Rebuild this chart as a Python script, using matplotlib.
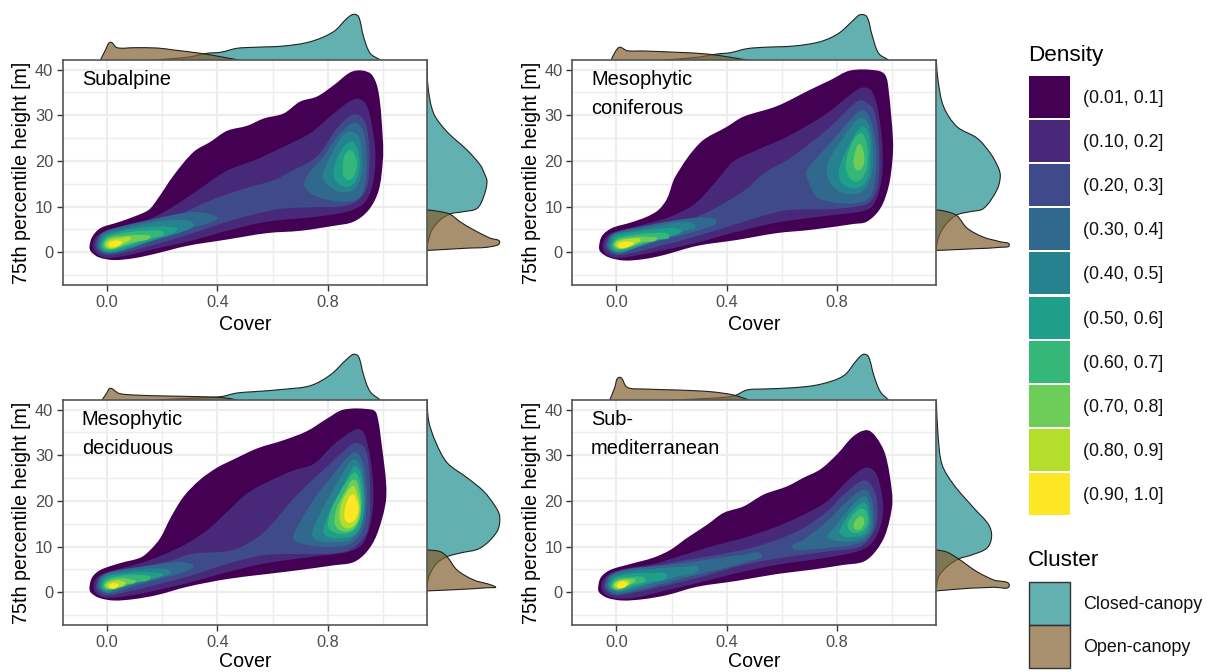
import numpy as np
import matplotlib
matplotlib.use('Agg')
import matplotlib.pyplot as plt
from matplotlib.path import Path
from matplotlib.patches import PathPatch, Rectangle

plt.rcParams['font.family'] = ['Liberation Sans', 'DejaVu Sans']

density_labels = ['(0.01, 0.1]', '(0.10, 0.2]', '(0.20, 0.3]', '(0.30, 0.4]', '(0.40, 0.5]',
                  '(0.50, 0.6]', '(0.60, 0.7]', '(0.70, 0.8]', '(0.80, 0.9]', '(0.90, 1.0]']
density_colors = ['#440154', '#482878', '#3E4A89', '#31688E', '#26828E',
                  '#1F9E89', '#35B779', '#6DCD59', '#B4DE2C', '#FDE725']
cluster_labels = ['Closed-canopy', 'Open-canopy']
closed_color = '#1F8F8F'
open_color = '#84602F'

# contour outlines (cover, height)

# Subalpine
sub_0 = [(-.064,1.2),(-.054,3.4),(-.024,5.3),(.036,6.5),(.097,7.8),(.151,9.3),(.181,11.5),(.242,16.9),(.314,22),
         (.375,24.2),(.435,26.6),(.508,27.7),(.568,29.3),(.64,30.4),(.70,33),(.761,34.1),(.822,36.6),(.882,39.4),
         (.924,39.8),(.961,38.8),(.985,34.8),(1.0,24.6),(1.0,20.2),(.985,13.6),(.949,9.3),(.894,6.7),(.822,5.8),
         (.70,4.7),(.58,4.2),(.435,2.8),(.29,1.4),(.169,-.4),(.097,-1.3),(.024,-1.7),(-.03,-1.1),(-.058,.1)]
sub_1 = [(-.052,1.6),(-.036,3.6),(.006,4.9),(.054,5.8),(.157,7.4),(.242,10.1),(.338,14),(.435,17.9),(.532,20.1),(.64,23.1),
         (.737,26.1),(.822,30.4),(.90,33.6),(.937,32.6),(.961,27.5),(.973,20.9),(.961,14.4),(.931,10.7),(.87,8.9),
         (.761,7.8),(.58,6.7),(.435,4.7),(.29,2.3),(.169,.7),(.073,-.7),(-.006,-1.2),(-.04,-.2)]
sub_2 = [(-.042,1.6),(-.024,3.9),(.042,5.4),(.121,6.2),(.242,7.8),(.363,11.1),(.483,13.7),(.604,15.8),(.665,17.7),(.761,21),
         (.834,27.2),(.894,30.2),(.931,29),(.949,24.6),(.952,20.2),(.943,14.4),(.912,11.5),(.858,10.1),(.761,9.9),
         (.616,9.4),(.459,7.1),(.29,3.8),(.157,1.4),(.06,-.1),(-.006,-.6),(-.033,.3)]
sub_3a = [(-.034,1.6),(-.018,4.2),(.048,5.6),(.151,7),(.248,8.3),(.32,8.8),(.399,7.7),(.375,6.5),(.266,4.9),(.133,2.5),(.036,.6),(-.006,-.1),(-.028,.5)]
sub_3b = [(.715,14.8),(.731,17.3),(.785,21),(.834,25.3),(.894,28.4),(.924,27.2),(.94,22.4),(.94,17.3),(.924,12.6),(.882,11.1),(.798,11.5),(.737,12.9)]
sub_4a = [(-.03,1.6),(-.012,3.9),(.054,5.1),(.151,6.4),(.26,7.1),(.314,6.1),(.272,4.5),(.175,2.7),(.066,.5),(.006,-.2),(-.024,.5)]
sub_4b = [(.782,16.2),(.792,18.8),(.822,22.4),(.858,25.7),(.888,26.4),(.912,25.3),(.924,21),(.92,16.6),(.9,14),(.87,13.1),(.822,13.7)]
sub_5a = [(-.024,1.6),(-.006,3.6),(.054,4.7),(.151,5.6),(.224,5.6),(.254,4.9),(.2,3.4),(.115,1.8),(.042,.4),(0,.1),(-.018,.7)]
sub_5b = [(.822,16.6),(.828,19.5),(.858,23.1),(.888,24.3),(.906,22.8),(.916,19.5),(.906,16.2),(.882,14.5),(.846,14.7)]
sub_6a = [(-.018,1.8),(0,3.3),(.054,4.2),(.139,4.7),(.206,4.2),(.163,3.1),(.091,1.8),(.036,.7),(0,.4),(-.016,1)]
sub_6b = [(.854,18),(.86,21),(.882,22.4),(.9,21),(.906,19.5),(.897,16.9),(.876,15.8),(.858,16.6)]
sub_7 = [(-.012,1.8),(.006,3.1),(.054,3.6),(.121,3.8),(.157,3.3),(.103,2.3),(.054,1.4),(.018,.7),(-.004,.9)]
sub_8 = [(-.006,1.8),(.012,2.8),(.054,3.2),(.085,3.1),(.06,2),(.03,1),(.006,.9)]
sub_9 = [(.006,2),(.024,2.5),(.048,2.5),(.052,1.9),(.03,1.2),(.008,1.2)]
sub_bands = [(0,sub_0),(1,sub_1),(2,sub_2),(3,sub_3a),(3,sub_3b),(4,sub_4a),(4,sub_4b),(5,sub_5a),(5,sub_5b),
             (6,sub_6a),(6,sub_6b),(7,sub_7),(8,sub_8),(9,sub_9)]

# Mesophytic coniferous
con_0 = [(-.063,1.2),(-.052,3.6),(-.016,5.3),(.051,6.5),(.111,7.8),(.153,9.3),(.184,11.8),(.214,16.6),(.304,24),
         (.401,27.5),(.461,29.7),(.582,32),(.703,35.6),(.776,37.7),(.848,39.8),(.945,39.8),(.975,38.8),(.987,35.6),
         (1.003,24.6),(1.001,20.2),(.987,14.4),(.957,9.6),(.908,6.7),(.86,6.2),(.703,4.9),(.582,4.2),(.437,2.7),
         (.292,1.4),(.172,-.6),(.099,-1.5),(.027,-1.8),(-.028,-1.1),(-.058,.1)]
con_1 = [(-.05,1.6),(-.034,3.6),(.005,4.7),(.06,5.5),(.123,6.5),(.196,7.8),(.286,10.7),(.365,15.8),(.425,19.9),(.51,22.4),
         (.619,25.3),(.763,30.4),(.848,34.5),(.896,36.1),(.927,35.2),(.951,30.4),(.966,21),(.957,14.4),(.927,10),
         (.884,8.9),(.763,8),(.582,6.5),(.437,4.5),(.292,2.1),(.172,.5),(.075,-.7),(-.006,-1.2),(-.04,-.2)]
con_2 = [(-.04,1.6),(-.022,3.7),(.04,5),(.124,5.9),(.245,7.2),(.292,7.8),(.389,10.7),(.474,14),(.534,17.3),(.619,20.2),
         (.703,23.9),(.776,27.5),(.872,33),(.896,33.2),(.933,31.1),(.951,24.6),(.954,18.8),(.945,13.7),(.915,10.8),
         (.86,9.9),(.763,9.4),(.619,9.2),(.522,7.8),(.389,5.3),(.268,3.1),(.159,1.4),(.063,-.1),(-.006,-.6),(-.03,.3)]
con_3a = [(-.034,1.6),(-.016,3.9),(.051,5.1),(.154,6.4),(.262,7.4),(.323,7.6),(.363,6.7),(.323,5.3),(.214,3.4),(.093,1.5),(.015,-.2),(-.018,.3)]
con_3b = [(.688,17.4),(.709,13.7),(.733,11.8),(.824,10.7),(.896,11.1),(.927,12.9),(.943,18.8),(.939,24.6),(.915,30),(.891,31.1),(.848,29),(.763,23.1),(.703,19.1)]
con_4a = [(-.028,1.6),(-.01,3.8),(.057,4.7),(.154,5.8),(.238,6.6),(.287,5.8),(.25,4.7),(.154,2.7),(.057,.7),(.008,-.2),(-.022,.5)]
con_4b = [(.763,17.3),(.769,19.9),(.824,25.3),(.872,29),(.896,29.3),(.918,27.5),(.93,22.4),(.927,17.3),(.902,14),(.866,12.7),(.812,13.3),(.776,15.1)]
con_5a = [(-.022,1.6),(-.004,3.6),(.057,4.4),(.154,5.1),(.214,5.3),(.236,4.5),(.19,3.4),(.105,1.8),(.045,.5),(.002,.1),(-.016,.7)]
con_5b = [(.806,17.7),(.824,21),(.86,25.3),(.89,27.5),(.915,26.1),(.92,21),(.915,16.9),(.89,14.5),(.854,14),(.818,15.1)]
con_6a = [(-.013,1.8),(.002,3.1),(.057,3.8),(.135,4.2),(.192,3.6),(.141,2.7),(.081,1.6),(.033,.7),(.002,.5),(-.013,1)]
con_6b = [(.832,19.1),(.848,23.1),(.884,26.1),(.906,24.2),(.911,20.2),(.902,17.3),(.872,15.5),(.842,16.6)]
con_7a = [(-.01,1.8),(.008,2.8),(.057,3.3),(.105,3.4),(.147,2.9),(.093,2.2),(.051,1.2),(.021,.7),(0,.9)]
con_7b = [(.86,20.2),(.872,23.1),(.884,23.7),(.896,22),(.899,19.9),(.89,18.4),(.875,17.9),(.862,18.8)]
con_8 = [(-.004,1.8),(.015,2.6),(.057,3),(.087,2.8),(.063,1.8),(.033,1),(.008,.9)]
con_9 = [(.008,1.8),(.027,2.3),(.057,2.2),(.063,1.8),(.033,1),(.011,1)]
con_bands = [(0,con_0),(1,con_1),(2,con_2),(3,con_3a),(3,con_3b),(4,con_4a),(4,con_4b),(5,con_5a),(5,con_5b),
             (6,con_6a),(6,con_6b),(7,con_7a),(7,con_7b),(8,con_8),(9,con_9)]

# Mesophytic deciduous
dec_0 = [(-.064,1.1),(-.054,3.3),(-.024,4.9),(.048,6.4),(.121,7.6),(.157,9.3),(.193,11.9),(.23,16.3),(.278,21),
         (.338,24.7),(.399,27.3),(.459,29.1),(.544,31.5),(.64,33.3),(.725,35.3),(.797,38),(.858,40),(.96,40),
         (.978,39),(.997,31.7),(1.012,23.6),(1.009,19.2),(.978,12.6),(.942,8.9),(.894,6.6),(.821,5.9),(.701,4.9),
         (.58,4),(.435,2.9),(.29,1.2),(.181,-.6),(.097,-1.5),(.024,-1.8),(-.03,-1.2),(-.06,0)]
dec_1 = [(-.05,1.6),(-.034,3.4),(.008,4.5),(.055,5.3),(.133,6.6),(.218,8.6),(.29,10.7),(.363,13.6),(.435,17.6),(.507,21.6),
         (.58,24.1),(.676,26.7),(.749,28.1),(.821,32.3),(.903,35.7),(.93,35),(.954,29.5),(.966,21.4),(.954,14.8),
         (.924,10.4),(.87,8.8),(.761,7.9),(.58,6.4),(.435,4.4),(.29,2),(.169,.3),(.073,-.8),(-.006,-1.2),(-.04,-.2)]
dec_2 = [(-.04,1.5),(-.022,3.5),(.04,4.8),(.133,5.7),(.242,7.1),(.302,8.4),(.459,9.3),(.556,12.5),(.604,15.4),(.665,19.8),
         (.737,24.2),(.797,27.5),(.87,31.6),(.9,32.7),(.937,31.3),(.952,25),(.954,18.4),(.942,13.2),(.906,10.3),
         (.858,8.8),(.761,8.4),(.58,8.2),(.459,6.6),(.29,3.4),(.169,1.5),(.06,-.1),(-.006,-.7),(-.033,.3)]
dec_3a = [(-.034,1.6),(-.016,3.8),(.048,4.9),(.151,5.8),(.248,6.6),(.296,6.4),(.314,5.6),(.266,4.2),(.175,2.7),(.079,1),(.012,-.2),(-.021,.3)]
dec_3b = [(.674,12.2),(.701,15.5),(.761,21.4),(.821,25.8),(.894,30.6),(.924,29.1),(.94,23.6),(.94,17.7),(.924,13.3),(.882,10.6),(.809,10),(.725,10.4),(.683,11.1)]
dec_4a = [(-.028,1.6),(-.01,3.6),(.048,4.5),(.139,5.1),(.212,5.1),(.233,4.3),(.175,3.1),(.079,1.5),(.024,.3),(0,-.1),(-.022,.7)]
dec_4b = [(.743,12.6),(.761,15.9),(.809,21.4),(.87,27.6),(.896,29.1),(.92,27.6),(.932,22.9),(.932,17.7),(.911,13.3),(.875,11.3),(.809,11),(.761,11.4)]
dec_5a = [(-.022,1.5),(-.006,3.3),(.048,4),(.121,4.4),(.181,4.3),(.202,3.7),(.133,2.5),(.06,1.2),(.018,.4),(-.004,.3),(-.018,.7)]
dec_5b = [(.785,13),(.803,17),(.845,22.1),(.882,26.4),(.9,27.6),(.92,25.8),(.932,21.4),(.93,17),(.911,13.3),(.882,12.2),(.821,11.9)]
dec_6a = [(-.016,1.5),(0,2.9),(.048,3.6),(.115,3.8),(.157,3.1),(.103,2.2),(.048,1.1),(.016,.6),(-.006,.6)]
dec_6b = [(.803,14.1),(.809,17.7),(.846,22.1),(.882,25.4),(.9,26.2),(.916,24.3),(.924,20.7),(.92,17),(.903,14.1),(.87,12.8),(.827,13)]
dec_7a = [(-.011,1.5),(.006,2.6),(.048,3.1),(.079,2.9),(.103,2.3),(.067,1.8),(.03,.9),(.004,.7)]
dec_7b = [(.825,15.2),(.833,18.5),(.864,22.1),(.894,24.7),(.912,22.9),(.92,19.2),(.916,16.3),(.896,14.1),(.87,13.3),(.84,13.7)]
dec_8a = [(-.004,1.5),(.012,2.3),(.042,2.6),(.067,1.9),(.036,1),(.006,.9)]
dec_8b = [(.843,16.6),(.852,19.9),(.876,22.5),(.894,23.2),(.908,21.4),(.916,18.5),(.906,15.5),(.882,14.1),(.855,14.4)]
dec_9a = [(.006,1.5),(.021,2),(.036,1.9),(.042,1.5),(.028,.8),(.01,.9)]
dec_9b = [(.86,17),(.87,19.9),(.891,21.4),(.906,19.9),(.912,18.1),(.903,16.3),(.882,15.2),(.865,15.7)]
dec_bands = [(0,dec_0),(1,dec_1),(2,dec_2),(3,dec_3a),(3,dec_3b),(4,dec_4a),(4,dec_4b),(5,dec_5a),(5,dec_5b),
             (6,dec_6a),(6,dec_6b),(7,dec_7a),(7,dec_7b),(8,dec_8a),(8,dec_8b),(9,dec_9a),(9,dec_9b)]

# Sub-mediterranean
med_0 = [(-.066,1.2),(-.056,3.3),(-.022,4.9),(.051,6.2),(.135,7.6),(.196,9.3),(.256,11.9),(.329,14.8),(.389,17.4),
         (.461,18.8),(.534,21.4),(.619,23.2),(.679,25.1),(.739,26.9),(.8,30.2),(.86,34.2),(.908,35.5),(.939,34.2),
         (.975,30.2),(.999,22.1),(.999,18.5),(.975,12.6),(.939,8.9),(.896,6.7),(.824,6),(.703,4.9),(.582,4),
         (.437,2.5),(.292,1.2),(.184,-.6),(.099,-1.5),(.021,-1.8),(-.034,-1.2),(-.063,0)]
med_1 = [(-.055,1.5),(-.038,3.5),(.005,4.8),(.06,5.5),(.135,6.2),(.244,8.2),(.365,10.4),(.461,11.9),(.582,14.4),(.679,17),
         (.763,19.9),(.836,24.3),(.903,27.3),(.939,26.2),(.963,21.4),(.967,17.7),(.951,13.3),(.92,10.4),(.872,8.9),
         (.763,7.6),(.582,6),(.437,4.2),(.292,2),(.172,.3),(.075,-1.1),(-.006,-1.3),(-.045,-.2)]
med_2 = [(-.045,1.5),(-.028,3.6),(.035,5),(.135,5.8),(.256,7.1),(.365,8.2),(.486,9.7),(.582,11.5),(.679,14.1),(.763,17.7),
         (.824,21.4),(.896,24.5),(.927,23.2),(.945,19.9),(.945,15.5),(.927,12.6),(.884,10),(.763,8.9),(.606,7.6),
         (.461,6),(.292,3.1),(.159,1.2),(.063,-.1),(-.006,-.7),(-.037,.3)]
med_3a = [(-.038,1.5),(-.02,3.8),(.045,5.1),(.135,5.7),(.244,6.4),(.365,7.5),(.461,8.2),(.528,8.2),(.474,6.7),(.365,4.9),(.244,3.1),(.123,1.1),(.039,-.1),(-.01,-.3),(-.03,.5)]
med_3b = [(.637,9.9),(.679,11.5),(.763,15.5),(.836,19.9),(.896,22.5),(.92,21.4),(.933,17.7),(.927,13.3),(.884,10.8),(.763,9.7),(.679,9.3)]
med_4a = [(-.032,1.5),(-.014,3.6),(.048,4.6),(.147,5.2),(.232,5.5),(.298,5.1),(.22,3.4),(.123,1.8),(.039,.3),(-.002,.1),(-.026,.7)]
med_4b = [(.766,12.2),(.794,14.4),(.836,17.7),(.884,20.7),(.906,20.8),(.923,17.7),(.923,14.1),(.896,11.9),(.848,11.1),(.794,11.3)]
med_5a = [(-.026,1.5),(-.008,3.2),(.048,4.1),(.121,4.2),(.184,3.6),(.123,2.2),(.051,.9),(.005,.3),(-.02,.8)]
med_5b = [(.809,13.3),(.83,15.9),(.872,18.8),(.899,19.6),(.914,17.7),(.918,14.8),(.896,12.6),(.854,12.1),(.818,12.4)]
med_6a = [(-.02,1.5),(-.002,2.9),(.05,3.4),(.105,2.8),(.06,1.6),(.02,.6),(-.006,.6)]
med_6b = [(.838,14.4),(.85,16.3),(.884,18.3),(.906,17.7),(.911,15.2),(.894,13.5),(.86,13)]
med_7a = [(-.014,1.5),(.004,2.6),(.04,3),(.069,2.6),(.04,1.5),(.012,.7),(-.008,.8)]
med_7b = [(.86,14.8),(.872,16.1),(.89,16.6),(.899,15.2),(.884,13.8),(.866,13.8)]
med_8 = [(-.008,1.6),(.008,2.5),(.035,2.7),(.05,2.2),(.03,1.1),(.008,.8)]
med_9 = [(.002,1.6),(.015,2.3),(.032,2.3),(.04,1.8),(.025,1),(.006,1)]
med_bands = [(0,med_0),(1,med_1),(2,med_2),(3,med_3a),(3,med_3b),(4,med_4a),(4,med_4b),(5,med_5a),(5,med_5b),
             (6,med_6a),(6,med_6b),(7,med_7a),(7,med_7b),(8,med_8),(9,med_9)]

# marginal densities along cover: (cover, density)
sub_top_closed = [(.169,0),(.29,2.7),(.362,6.7),(.411,7.7),(.471,11.7),(.532,12.7),(.64,14),(.737,18.3),(.821,28.3),(.87,41.7),(.894,45.7),(.912,43.3),(.93,23.3),(.954,6.7),(.991,0)]
sub_top_open = [(-.024,0),(-.006,10),(.012,17.7),(.036,12.3),(.097,12.3),(.181,12),(.242,10),(.338,6.7),(.411,3.3),(.477,0)]
con_top_closed = [(.172,0),(.292,2.7),(.365,6),(.413,7.3),(.473,11.3),(.534,12.7),(.643,14),(.739,18.3),(.806,26.7),(.86,40),(.884,45.3),(.908,43.3),(.927,25),(.951,6.7),(.987,0)]
con_top_open = [(-.019,0),(-.004,8.3),(.012,12.7),(.039,9.3),(.099,9),(.22,7.7),(.329,6),(.413,2.7),(.474,0)]
dec_top_closed = [(.169,0),(.302,1.7),(.411,3.3),(.471,7),(.532,8.3),(.64,10.7),(.737,14.3),(.809,25),(.87,41),(.894,45.7),(.912,43.3),(.93,25),(.954,8.3),(.991,0)]
dec_top_open = [(-.018,0),(-.002,6.7),(.012,11.7),(.042,6.7),(.097,5),(.218,4),(.338,3.3),(.423,2.3),(.471,0)]
med_top_closed = [(.196,0),(.341,1.7),(.425,4),(.473,10),(.534,11),(.643,12.3),(.739,15.7),(.824,24.3),(.872,40),(.896,45.7),(.914,43.3),(.933,25),(.957,8.3),(.987,0)]
med_top_open = [(-.024,0),(-.007,11.7),(.011,22.7),(.039,12.7),(.099,11),(.22,10),(.341,8.3),(.425,5),(.48,0)]

# marginal densities along height: (density, height)
sub_right_closed = [(0,42.1),(1,36.3),(6.7,30.4),(20,26.4),(40,22.4),(53.3,19.1),(57.3,17.3),(60,15.5),(56.7,12.2),(50,9.6),(36.7,8.9),(23.3,8.4),(13.3,7.1),(5,4.9),(.7,2),(0,.5)]
sub_right_open = [(0,9.3),(13.3,8.9),(23.3,8.3),(33,6.7),(46.7,4.9),(63,3.1),(72.7,2.2),(63,1.2),(40,.9),(0,.4)]
con_right_closed = [(0,42.1),(1.7,37.7),(7.3,31.9),(20.7,27.5),(40.7,25),(54,21.7),(62.3,18.4),(64,16.6),(60.7,13.7),(47.3,9.6),(34,8.9),(20.7,8.2),(10.7,6.4),(4,4.2),(.7,2),(0,.5)]
con_right_open = [(0,9.3),(10.7,8.9),(20.7,8),(30.7,5.3),(47.3,3.3),(64,2.3),(73,1.6),(64,1.1),(40.7,.8),(0,.4)]
dec_right_closed = [(0,42.3),(1.7,37.5),(8.3,33.1),(20,28.4),(40,25.1),(56.7,22.1),(68.3,18.8),(72.7,16.6),(70,13.3),(53.3,9.7),(33.3,8.6),(20,7.8),(10,6.4),(3.3,4.2),(.3,2),(0,.3)]
dec_right_open = [(0,9.3),(13.3,8.9),(20,7.8),(30,4.9),(46.7,2.7),(68.3,1.2),(60,1),(40,.7),(0,.3)]
med_right_closed = [(0,42.3),(1.7,34.6),(5.7,28),(17.3,23.6),(37.3,18.5),(52.3,14.8),(55.3,12.2),(50.7,9.7),(35.7,8.2),(22.3,7.3),(10.7,5.6),(2.3,3.4),(0,.9)]
med_right_open = [(0,9.3),(10.7,8.8),(22.3,7.3),(40.7,4.5),(57.3,2.7),(73,1.5),(57.3,1.1),(34,.9),(0,.3)]

panel_names = [['Subalpine'], ['Mesophytic', 'coniferous'], ['Mesophytic', 'deciduous'], ['Sub-', 'mediterranean']]
panel_bands = [sub_bands, con_bands, dec_bands, med_bands]
panel_tops = [(sub_top_closed, sub_top_open), (con_top_closed, con_top_open), (dec_top_closed, dec_top_open), (med_top_closed, med_top_open)]
panel_rights = [(sub_right_closed, sub_right_open), (con_right_closed, con_right_open), (dec_right_closed, dec_right_open), (med_right_closed, med_right_open)]

W, H = 1213, 672
panel_left = [63, 572.3, 63, 572.3]
panel_top = [60, 60, 400, 400]
panel_w = 364
panel_h = 225
x_px = 275.8   # pixels per unit of cover
y_px = 4.567   # pixels per metre
xlabel_gap = [40, 40, 36.5, 36.5]   # the bottom row has little room left under it


def smooth_path(pts, scale, closed=True):
    # curves through the points, with handles worked out in screen proportions
    s = np.array(scale, dtype=float)
    q = np.asarray(pts, dtype=float) * s
    d = np.roll(q, -1, axis=0) - np.roll(q, 1, axis=0)
    if not closed:
        d[0] = q[1] - q[0]
        d[-1] = q[-1] - q[-2]
    u = d / np.linalg.norm(d, axis=1, keepdims=True)
    verts = [q[0]]
    codes = [Path.MOVETO]
    n = len(q) if closed else len(q) - 1
    for i in range(n):
        j = (i + 1) % len(q)
        h = np.linalg.norm(q[j] - q[i]) / 3
        verts += [q[i] + u[i] * h, q[j] - u[j] * h, q[j]]
        codes += [Path.CURVE4] * 3
    return Path(np.array(verts) / s, codes)


def px_axes(left, top, w, h):
    return fig.add_axes([left / W, 1 - (top + h) / H, w / W, h / H])


fig = plt.figure(figsize=(W / 100, H / 100), dpi=100)

for k in range(4):
    left, top = panel_left[k], panel_top[k]

    # marginals first, the main panel sits on top of them
    ax_top = px_axes(left, top - 50, panel_w, 50)
    ax_top.set_xlim(-0.16, 1.16)
    ax_top.set_ylim(0, 50)
    ax_top.axis('off')
    ax_right = px_axes(left + panel_w, top, 76, panel_h)
    ax_right.set_xlim(0, 76)
    ax_right.set_ylim(-7.16, 42.1)
    ax_right.axis('off')
    for a, curves, scale in [(ax_top, panel_tops[k], (x_px, 1)), (ax_right, panel_rights[k], (1, y_px))]:
        for c, col in zip(curves, [closed_color, open_color]):
            path = smooth_path(c, scale, closed=False)
            a.add_patch(PathPatch(path, facecolor=col, edgecolor='none', alpha=0.7))
            a.add_patch(PathPatch(path, facecolor='none', edgecolor='#222222', lw=0.8))

    ax = px_axes(left, top, panel_w, panel_h)
    ax.set_xlim(-0.16, 1.16)
    ax.set_ylim(-7.16, 42.1)
    ax.set_axisbelow(True)
    ax.set_xticks([0, 0.4, 0.8])
    ax.set_xticklabels(['0.0', '0.4', '0.8'])
    ax.set_yticks([0, 10, 20, 30, 40])
    ax.set_xticks([0.2, 0.6, 1.0], minor=True)
    ax.set_yticks([-5, 5, 15, 25, 35], minor=True)
    ax.grid(True, which='major', color='#EDEDED', lw=1.6)
    ax.grid(True, which='minor', color='#EDEDED', lw=1.0)
    ax.tick_params(which='major', length=4, width=1, color='#333333', labelcolor='#4D4D4D', labelsize=11.8, pad=3)
    ax.tick_params(which='minor', length=0)
    for s in ax.spines.values():
        s.set_color('#555555')
        s.set_linewidth(1.2)
    ax.set_xlabel('Cover', fontsize=14.1, color='black')
    ax.xaxis.set_label_coords(0.5, -xlabel_gap[k] / panel_h)
    ax.xaxis.label.set_va('center')
    ax.set_ylabel('75th percentile height [m]', fontsize=14.2, color='black')
    ax.yaxis.set_label_coords(-41 / panel_w, 0.5)
    ax.yaxis.label.set_va('center')

    for level, outline in panel_bands[k]:
        ax.add_patch(PathPatch(smooth_path(outline, (x_px, y_px)), facecolor=density_colors[level], edgecolor='none', lw=0))

    for i, line in enumerate(panel_names[k]):
        ax.text(-0.092, 37.8 - 6.35 * i, line, fontsize=14.4, color='black', ha='left', va='center')

# legends, drawn in pixel positions of the whole figure
leg = fig.add_axes([0, 0, 1, 1])
leg.set_xlim(0, W)
leg.set_ylim(H, 0)
leg.axis('off')
leg.patch.set_alpha(0)
leg.text(1028, 56, 'Density', fontsize=16.2, ha='left', va='center')
for i, (lab, col) in enumerate(zip(density_labels, density_colors)):
    yc = 97 + 44.1 * i
    leg.add_patch(Rectangle((1028.5, yc - 21), 41, 42, facecolor=col, edgecolor='none'))
    leg.text(1083, yc + 1.5, lab, fontsize=12.9, ha='left', va='center', color='#111111')
leg.text(1028, 561, 'Cluster', fontsize=16.2, ha='left', va='center')
for i, (lab, col) in enumerate(zip(cluster_labels, [closed_color, open_color])):
    yc = 603 + 43 * i
    leg.add_patch(Rectangle((1028.5, yc - 21.5), 41, 43, facecolor=col, edgecolor='none', alpha=0.7))
    leg.add_patch(Rectangle((1028.5, yc - 21.5), 41, 43, facecolor='none', edgecolor='#333333', lw=1.0))
    leg.text(1083, yc + 1.5, lab, fontsize=12.9, ha='left', va='center', color='#111111')

fig.savefig('out.png', dpi=100)
